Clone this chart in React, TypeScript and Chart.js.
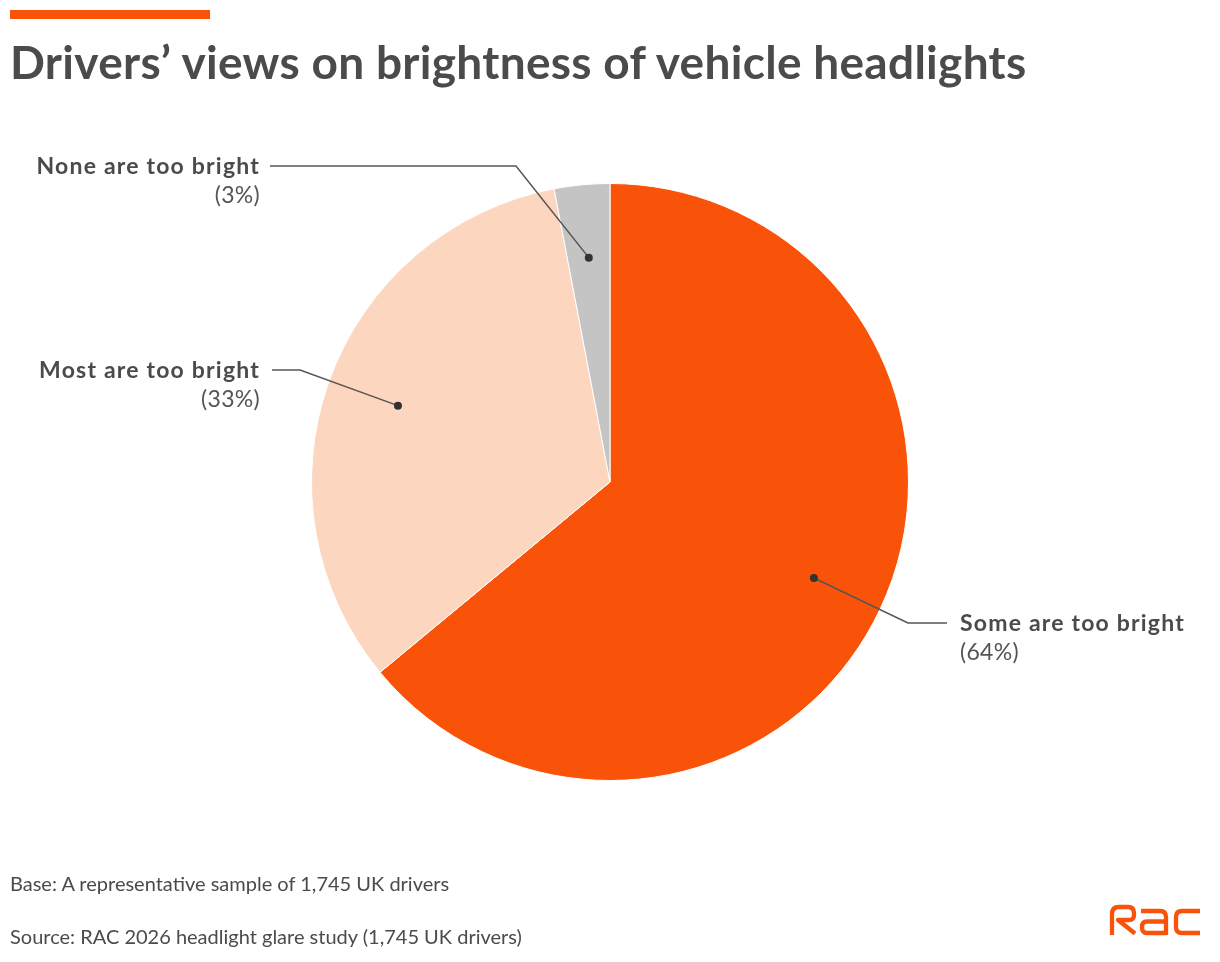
import React, { useEffect, useRef } from "react";
import { Chart, registerables } from "chart.js";

Chart.register(...registerables);

// Survey answers, clockwise from 12 o'clock
const categories = ["Some are too bright", "Most are too bright", "None are too bright"];
const shares = [64, 33, 3];
const sliceColors = ["#F95209", "#FDD6C0", "#C4C4C4"];

// Where each callout's text sits and where its leader line bends
const callouts = [
  { side: "right", textX: 960, lineY: 623, elbowX: 908, lineEndX: 947 },
  { side: "left", textX: 260, lineY: 370, elbowX: 300, lineEndX: 272 },
  { side: "left", textX: 260, lineY: 166, elbowX: 516, lineEndX: 270 },
];

const TEXT = "#4B4B4B";
const ORANGE = "#F95209";
const FONT = "Lato, 'Open Sans', sans-serif";

const calloutPlugin = {
  id: "callouts",
  afterDraw(chart: any) {
    const ctx = chart.ctx as CanvasRenderingContext2D;
    const meta = chart.getDatasetMeta(0);
    ctx.save();
    meta.data.forEach((arc: any, i: number) => {
      const { x, y, startAngle, endAngle, outerRadius } = arc.getProps(
        ["x", "y", "startAngle", "endAngle", "outerRadius"],
        true
      );
      const mid = (startAngle + endAngle) / 2;
      const dx = x + Math.cos(mid) * outerRadius * 0.755;
      const dy = y + Math.sin(mid) * outerRadius * 0.755;
      const c = callouts[i];

      ctx.strokeStyle = "#555555";
      ctx.lineWidth = 1.5;
      ctx.beginPath();
      ctx.moveTo(dx, dy);
      ctx.lineTo(c.elbowX, c.lineY);
      ctx.lineTo(c.lineEndX, c.lineY);
      ctx.stroke();

      ctx.fillStyle = "#333333";
      ctx.beginPath();
      ctx.arc(dx, dy, 4, 0, Math.PI * 2);
      ctx.fill();

      ctx.textAlign = c.side === "left" ? "right" : "left";
      ctx.textBaseline = "alphabetic";
      ctx.fillStyle = TEXT;
      ctx.font = `bold 23px ${FONT}`;
      (ctx as any).letterSpacing = "1.2px";
      ctx.fillText(categories[i], c.textX, c.lineY + 8);
      ctx.fillStyle = "#555555";
      ctx.font = `23px ${FONT}`;
      (ctx as any).letterSpacing = "0.3px";
      ctx.fillText(`(${shares[i]}%)`, c.textX, c.lineY + 37);
      (ctx as any).letterSpacing = "0px";
    });

    // RAC wordmark
    ctx.strokeStyle = ORANGE;
    ctx.lineWidth = 4.3;
    ctx.lineJoin = "round";
    ctx.lineCap = "butt";
    ctx.beginPath();
    ctx.moveTo(1112, 935);
    ctx.lineTo(1112, 914);
    ctx.quadraticCurveTo(1112, 907, 1119, 907);
    ctx.lineTo(1128, 907);
    ctx.quadraticCurveTo(1134, 907, 1134, 913);
    ctx.lineTo(1134, 915);
    ctx.quadraticCurveTo(1134, 920, 1129, 920);
    ctx.lineTo(1118, 920);
    ctx.lineTo(1135, 933.5);
    ctx.stroke();

    ctx.beginPath();
    ctx.moveTo(1141, 911);
    ctx.lineTo(1160, 911);
    ctx.quadraticCurveTo(1166, 911, 1166, 917);
    ctx.lineTo(1166, 935);
    ctx.moveTo(1166, 921.5);
    ctx.lineTo(1147, 921.5);
    ctx.quadraticCurveTo(1142, 921.5, 1142, 927);
    ctx.quadraticCurveTo(1142, 933, 1147, 933);
    ctx.lineTo(1166, 933);
    ctx.stroke();

    ctx.beginPath();
    ctx.moveTo(1200, 911);
    ctx.lineTo(1182, 911);
    ctx.quadraticCurveTo(1176, 911, 1176, 917);
    ctx.lineTo(1176, 927);
    ctx.quadraticCurveTo(1176, 933, 1182, 933);
    ctx.lineTo(1200, 933);
    ctx.stroke();
    ctx.restore();
  },
};

export default function App() {
  const canvasRef = useRef<HTMLCanvasElement>(null);

  useEffect(() => {
    if (!canvasRef.current) return;
    const chart = new Chart(canvasRef.current, {
      type: "pie",
      data: {
        labels: categories,
        datasets: [
          {
            data: shares,
            backgroundColor: sliceColors,
            borderColor: "#FFFFFF",
            borderWidth: 1,
          },
        ],
      },
      options: {
        responsive: false,
        animation: false,
        events: [],
        layout: { padding: { left: 311, right: 311, top: 183, bottom: 181 } },
        plugins: {
          legend: { display: false },
          tooltip: { enabled: false },
          title: { display: false },
        },
      },
      plugins: [calloutPlugin],
    });
    return () => chart.destroy();
  }, []);

  return (
    <div
      style={{
        position: "absolute",
        left: 0,
        top: 0,
        width: 1220,
        height: 962,
        background: "#FFFFFF",
        fontFamily: FONT,
        overflow: "hidden",
      }}
    >
      <canvas ref={canvasRef} width={1220} height={962} style={{ position: "absolute", left: 0, top: 0 }} />
      <div style={{ position: "absolute", left: 10, top: 10, width: 200, height: 9, background: ORANGE }} />
      <div
        style={{
          position: "absolute",
          left: 10,
          top: 39,
          fontSize: 46,
          lineHeight: "46px",
          fontWeight: 700,
          letterSpacing: "0.3px",
          color: TEXT,
          whiteSpace: "nowrap",
        }}
      >
        Drivers’ views on brightness of vehicle headlights
      </div>
      <div
        style={{
          position: "absolute",
          left: 10,
          top: 873,
          fontSize: 20,
          lineHeight: "20px",
          color: TEXT,
          whiteSpace: "nowrap",
        }}
      >
        Base: A representative sample of 1,745 UK drivers
      </div>
      <div
        style={{
          position: "absolute",
          left: 10,
          top: 926,
          fontSize: 20,
          lineHeight: "20px",
          color: TEXT,
          whiteSpace: "nowrap",
        }}
      >
        Source: RAC 2026 headlight glare study (1,745 UK drivers)
      </div>
    </div>
  );
}
